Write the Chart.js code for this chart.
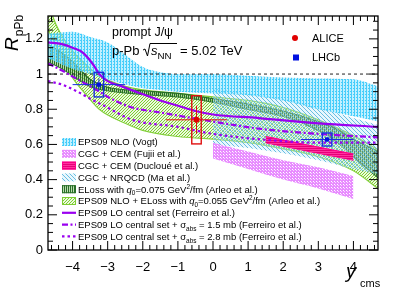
<!DOCTYPE html>
<html>
<head>
<meta charset="utf-8">
<script src="https://cdn.jsdelivr.net/npm/chart.js@4.4.0/dist/chart.umd.min.js"></script>
<style>
  html, body { margin: 0; padding: 0; background: #fff; }
</style>
</head>
<body>
<canvas id="grafico" width="399" height="289"></canvas>
<script>
// limites dos eixos
var eixoX = [-4.7, 4.7];
var eixoY = [0, 1.33];

// faixas teoricas (rapidez y_cms, borda de cima, borda de baixo)
var vogtX = [-4.7, -4, -3.5, -3, -2.5, -2, -1.5, -1, 0, 1, 2, 3, 4, 4.7];
var vogtAlto = [1.23, 1.24, 1.21, 1.18, 1.11, 1.04, 1.01, 1.0, 1.0, 0.99, 0.98, 0.975, 0.97, 0.93];
var vogtBaixo = [1.09, 1.03, 1.0, 0.97, 0.94, 0.92, 0.91, 0.90, 0.89, 0.88, 0.85, 0.80, 0.76, 0.73];

var fujiiX = [0, 1, 2, 3, 4];
var fujiiAlto = [0.61, 0.56, 0.51, 0.47, 0.42];
var fujiiBaixo = [0.52, 0.46, 0.40, 0.35, 0.29];

var duclX = [1.5, 2, 2.5, 3, 3.5, 4];
var duclAlto = [0.645, 0.625, 0.605, 0.585, 0.565, 0.545];
var duclBaixo = [0.61, 0.59, 0.57, 0.55, 0.53, 0.51];

var maX = [0, 1, 2, 3, 4, 4.7];
var maAlto = [0.92, 0.89, 0.86, 0.81, 0.75, 0.71];
var maBaixo = [0.60, 0.58, 0.55, 0.51, 0.46, 0.43];

var eloss075X = [-4.7, -4.3, -4, -3.5, -3, -2, -1, 0, 1, 2, 3, 3.5, 4, 4.7];
var eloss075Alto = [1.17, 1.12, 1.07, 0.97, 0.925, 0.905, 0.89, 0.86, 0.83, 0.79, 0.73, 0.69, 0.63, 0.56];
var eloss075Baixo = [1.07, 1.03, 0.99, 0.93, 0.905, 0.885, 0.87, 0.84, 0.80, 0.76, 0.68, 0.62, 0.53, 0.41];

var eloss055X = [-4.7, -4.57, -4.37, -4, -3.6, -3.24, -2.5, -2, -1, 0, 1, 2, 3, 4, 4.7];
var eloss055Alto = [1.42, 1.33, 1.24, 1.13, 1.05, 0.99, 0.93, 0.91, 0.89, 0.87, 0.85, 0.81, 0.74, 0.65, 0.57];
var eloss055Baixo = [1.25, 1.20, 1.12, 0.98, 0.88, 0.80, 0.72, 0.68, 0.645, 0.63, 0.61, 0.575, 0.53, 0.45, 0.35];

// curvas Ferreiro
var ferrX = [-4.7, -4.3, -4, -3.7, -3.4, -3.24, -3, -2.6, -2.2, -1.5, -1, -0.5, 0, 1.3, 3, 4.7];
var ferrY = [1.18, 1.17, 1.15, 1.12, 1.05, 1.0, 0.96, 0.93, 0.90, 0.85, 0.82, 0.79, 0.77, 0.75, 0.72, 0.70];
var ferr15X = [-4.7, -4.3, -3.86, -3.4, -2.9, -2.3, -1.45, 0, 1.3, 3, 4.7];
var ferr15Y = [1.06, 1.02, 0.97, 0.92, 0.86, 0.81, 0.78, 0.73, 0.69, 0.66, 0.64];
var ferr28X = [-4.7, -4.3, -3.86, -3.5, -3.1, -2.3, -1, 0, 1.3, 3, 4.7];
var ferr28Y = [0.96, 0.94, 0.90, 0.86, 0.82, 0.74, 0.70, 0.66, 0.63, 0.61, 0.61];

// dados medidos
var aliceX = [-0.47], aliceY = [0.74];
var aliceXmin = [-1.34], aliceXmax = [0.40];
var aliceStat = [0.08], aliceSist = [0.137];
var lhcbX = [-3.25, 3.25], lhcbY = [0.94, 0.628];
var lhcbXmin = [-4.0, 2.5], lhcbXmax = [-2.5, 4.0];
var lhcbStat = [0.035, 0.012], lhcbSist = [0.07, 0.037];

var refX = [-4.7, 4.7], refY = [1, 1];

var legendaTextos = [
  [["EPS09 NLO (Vogt)", "n"]],
  [["CGC + CEM (Fujii et al.)", "n"]],
  [["CGC + CEM (Ducloué et al.)", "n"]],
  [["CGC + NRQCD (Ma et al.)", "n"]],
  [["ELoss with ", "n"], ["q", "i"], ["0", "sub"], ["=0.075 GeV", "n"], ["2", "sup"], ["/fm (Arleo et al.)", "n"]],
  [["EPS09 NLO + ELoss with ", "n"], ["q", "i"], ["0", "sub"], ["=0.055 GeV", "n"], ["2", "sup"], ["/fm (Arleo et al.)", "n"]],
  [["EPS09 LO central set (Ferreiro et al.)", "n"]],
  [["EPS09 LO central set + ", "n"], ["σ", "n"], ["abs", "sub"], [" = 1.5 mb (Ferreiro et al.)", "n"]],
  [["EPS09 LO central set + ", "n"], ["σ", "n"], ["abs", "sub"], [" = 2.8 mb (Ferreiro et al.)", "n"]]
];

var FONTE = "'Liberation Sans', Arial, sans-serif";
var ROXO = "#9a00f0";

function pontos(xs, ys) {
  return xs.map(function (v, i) { return { x: v, y: ys[i] }; });
}

// padroes de hachura
function padrao(tam, desenho) {
  var c = document.createElement("canvas");
  c.width = tam; c.height = tam;
  var g = c.getContext("2d");
  desenho(g, tam);
  return g.createPattern(c, "repeat");
}

var padVogt = padrao(3, function (g, n) {
  g.fillStyle = "rgba(140,228,255,0.55)"; g.fillRect(0, 0, n, n);
  g.fillStyle = "rgb(70,205,250)"; g.fillRect(0, 0, 1, n); g.fillRect(2, 1, 1, 1);
});
var padFujii = padrao(3, function (g, n) {
  g.fillStyle = "rgb(232,140,255)"; g.fillRect(0, 0, n, n);
  g.clearRect(1, 1, 1, 1);
  g.fillStyle = "rgb(248,215,255)"; g.fillRect(2, 2, 1, 1);
});
var padDucl = padrao(2, function (g, n) {
  g.fillStyle = "rgb(255,50,160)"; g.fillRect(0, 0, n, n);
  g.fillStyle = "rgb(230,0,120)"; g.fillRect(0, 0, n, 1);
});
var padMa = padrao(4, function (g, n) {
  g.fillStyle = "rgba(190,232,248,0.35)"; g.fillRect(0, 0, n, n);
  g.fillStyle = "rgb(105,190,225)";
  for (var i = 0; i < n; i++) g.fillRect(i, i, 1, 1);
});
var padEloss075 = padrao(2, function (g, n) {
  g.fillStyle = "rgba(140,195,120,0.6)"; g.fillRect(0, 0, n, n);
  g.fillStyle = "rgb(40,110,40)"; g.fillRect(0, 0, 1, n);
});
var padEloss055 = padrao(3, function (g, n) {
  g.fillStyle = "rgba(200,240,160,0.35)"; g.fillRect(0, 0, n, n);
  g.fillStyle = "rgb(125,205,50)";
  for (var i = 0; i < n; i++) g.fillRect(i, n - 1 - i, 1, 1);
});

function faixa(xs, alto, baixo, fundo, borda) {
  var base = {
    pointRadius: 0,
    borderColor: borda || "transparent",
    borderWidth: 1.2,
    cubicInterpolationMode: "monotone",
    clip: 0
  };
  return [
    Object.assign({}, base, { data: pontos(xs, alto), fill: "+1", backgroundColor: fundo }),
    Object.assign({}, base, { data: pontos(xs, baixo), fill: false })
  ];
}

function curva(xs, ys, tracos) {
  return {
    data: pontos(xs, ys),
    borderColor: ROXO,
    borderWidth: 2.2,
    borderDash: tracos,
    pointRadius: 0,
    fill: false,
    cubicInterpolationMode: "monotone",
    clip: 0
  };
}

var datasets = [
  { data: pontos(aliceX, aliceY), showLine: false, pointStyle: "circle", pointRadius: 3,
    pointBackgroundColor: "#e00000", pointBorderColor: "#e00000", borderWidth: 0 },
  { data: pontos(lhcbX, lhcbY), showLine: false, pointStyle: "rect", pointRadius: 3,
    pointBackgroundColor: "#0010e0", pointBorderColor: "#0010e0", borderWidth: 0 },
  curva(ferrX, ferrY, []),
  curva(ferr15X, ferr15Y, [6, 2.5, 2, 2.5]),
  curva(ferr28X, ferr28Y, [2.5, 3]),
  { data: pontos(refX, refY), borderColor: "#222", borderWidth: 1, borderDash: [3, 3],
    pointRadius: 0, fill: false }
]
  .concat(faixa(duclX, duclAlto, duclBaixo, padDucl, "rgb(255,0,140)"))
  .concat(faixa(fujiiX, fujiiAlto, fujiiBaixo, padFujii))
  .concat(faixa(vogtX, vogtAlto, vogtBaixo, padVogt))
  .concat(faixa(maX, maAlto, maBaixo, padMa))
  .concat(faixa(eloss075X, eloss075Alto, eloss075Baixo, padEloss075, "rgb(40,110,40)"))
  .concat(faixa(eloss055X, eloss055Alto, eloss055Baixo, padEloss055, "rgb(125,205,50)"));

function linha(ctx, x1, y1, x2, y2) {
  ctx.beginPath(); ctx.moveTo(x1, y1); ctx.lineTo(x2, y2); ctx.stroke();
}

// barras de erro e caixas sistematicas
function desenharErros(ctx, sx, sy, xs, ys, xmin, xmax, stat, sist, cor) {
  ctx.save();
  ctx.strokeStyle = cor;
  for (var i = 0; i < xs.length; i++) {
    var px = sx.getPixelForValue(xs[i]);
    var py = sy.getPixelForValue(ys[i]);
    ctx.lineWidth = 1;
    linha(ctx, sx.getPixelForValue(xmin[i]), py, sx.getPixelForValue(xmax[i]), py);
    linha(ctx, px, sy.getPixelForValue(ys[i] + stat[i]), px, sy.getPixelForValue(ys[i] - stat[i]));
    var x0 = sx.getPixelForValue(xs[i] - 0.135), x1 = sx.getPixelForValue(xs[i] + 0.135);
    var y0 = sy.getPixelForValue(ys[i] + sist[i]), y1 = sy.getPixelForValue(ys[i] - sist[i]);
    ctx.lineWidth = 1.4;
    ctx.strokeRect(x0, y0, x1 - x0, y1 - y0);
  }
  ctx.restore();
}

// texto com indices e expoentes
function textoRico(ctx, partes, x, y, tam, fsub) {
  var cx = x;
  fsub = fsub || 0.68;
  partes.forEach(function (p) {
    var t = tam, dy = 0, estilo = "";
    if (p[1] == "i") estilo = "italic ";
    if (p[1] == "sub") { t = tam * fsub; dy = tam * 0.3; }
    if (p[1] == "sup") { t = tam * fsub; dy = -tam * 0.42; }
    ctx.font = estilo + t + "px " + FONTE;
    ctx.fillText(p[0], cx, y + dy);
    cx += ctx.measureText(p[0]).width;
  });
  return cx;
}

var enfeites = {
  id: "enfeites",
  beforeDatasetDraw: function (chart, args) {
    if (args.index !== 1) return;
    var ctx = chart.ctx, sx = chart.scales.x, sy = chart.scales.y;
    desenharErros(ctx, sx, sy, lhcbX, lhcbY, lhcbXmin, lhcbXmax, lhcbStat, lhcbSist, "#1a2ee0");
    desenharErros(ctx, sx, sy, aliceX, aliceY, aliceXmin, aliceXmax, aliceStat, aliceSist, "#e01010");
  },
  afterDraw: function (chart) {
    var ctx = chart.ctx, a = chart.chartArea;
    var sx = chart.scales.x, sy = chart.scales.y;
    ctx.save();
    ctx.strokeStyle = "#000";
    ctx.fillStyle = "#000";
    ctx.lineWidth = 1.3;
    ctx.strokeRect(a.left, a.top, a.right - a.left, a.bottom - a.top);

    // marcas dos eixos, para dentro
    ctx.lineWidth = 1;
    for (var k = -23; k <= 23; k++) {
      var px = sx.getPixelForValue(k * 0.2);
      var L = (k % 5 == 0) ? 9 : 5;
      linha(ctx, px, a.bottom, px, a.bottom - L);
      linha(ctx, px, a.top, px, a.top + L);
    }
    for (var j = 0; j <= 26; j++) {
      var py = sy.getPixelForValue(j * 0.05);
      var M = (j % 4 == 0) ? 9 : 5;
      linha(ctx, a.left, py, a.left + M, py);
      linha(ctx, a.right, py, a.right - M, py);
    }

    ctx.textBaseline = "alphabetic";
    ctx.textAlign = "left";

    // titulo eixo y
    ctx.save();
    ctx.translate(18, 51);
    ctx.rotate(-Math.PI / 2);
    ctx.font = "italic 19px " + FONTE;
    ctx.fillText("R", 0, 0);
    var wR = ctx.measureText("R").width;
    ctx.font = "12px " + FONTE;
    ctx.fillText("pPb", wR + 1, 5);
    ctx.restore();

    // titulo eixo x
    ctx.font = "italic 20px " + FONTE;
    ctx.fillText("y", 346, 278);
    ctx.font = "11px " + FONTE;
    ctx.fillText("cms", 360, 287);

    // cabecalho
    ctx.font = "12.5px " + FONTE;
    ctx.fillText("prompt J/\u03c8", 112, 36);
    ctx.font = "13px " + FONTE;
    ctx.fillText("p-Pb", 112, 55);
    // raiz
    ctx.lineWidth = 1;
    ctx.beginPath();
    ctx.moveTo(143, 50); ctx.lineTo(145, 49); ctx.lineTo(147.5, 56);
    ctx.lineTo(150, 43.5); ctx.lineTo(177, 43.5);
    ctx.stroke();
    textoRico(ctx, [["s", "i"], ["NN", "sub"]], 151, 55, 13, 0.75);
    ctx.font = "13px " + FONTE;
    ctx.fillText("= 5.02 TeV", 180, 55);

    // legenda dos dados
    ctx.fillStyle = "#e00000";
    ctx.beginPath(); ctx.arc(295, 38, 3, 0, Math.PI * 2); ctx.fill();
    ctx.fillStyle = "#0010e0";
    ctx.fillRect(293, 54.5, 6, 6);
    ctx.fillStyle = "#000";
    ctx.font = "11px " + FONTE;
    ctx.fillText("ALICE", 312, 42);
    ctx.fillText("LHCb", 312, 61);

    // legenda dos modelos
    var fundos = [padVogt, padFujii, padDucl, padMa, padEloss075, padEloss055];
    var bordas = [null, null, "rgb(255,0,140)", null, "rgb(40,110,40)", "rgb(125,205,50)"];
    var tracos = [[], [6, 2.5, 2, 2.5], [2.5, 3]];
    for (var e = 0; e < legendaTextos.length; e++) {
      var cy = 142 + e * 11.8;
      if (e < 6) {
        ctx.fillStyle = fundos[e];
        ctx.fillRect(62, cy - 4, 14, 8);
        if (bordas[e]) {
          ctx.strokeStyle = bordas[e]; ctx.lineWidth = 1;
          ctx.strokeRect(62.5, cy - 3.5, 13, 7);
        }
      } else {
        ctx.strokeStyle = ROXO; ctx.lineWidth = 2.2;
        ctx.setLineDash(tracos[e - 6]);
        linha(ctx, 62, cy, 76, cy);
        ctx.setLineDash([]);
      }
      ctx.fillStyle = "#000";
      textoRico(ctx, legendaTextos[e], 78, cy + 3.4, 9.5);
    }
    ctx.restore();
  }
};

var ctx1 = document.getElementById("grafico").getContext("2d");

var grafico = new Chart(ctx1, {
  type: "line",
  data: { datasets: datasets },
  plugins: [enfeites],
  options: {
    responsive: false,
    animation: false,
    devicePixelRatio: 1,
    layout: { padding: { top: 16, right: 21, left: 0, bottom: 0 } },
    plugins: {
      legend: { display: false },
      tooltip: { enabled: false },
    },
    scales: {
      x: {
        type: "linear",
        min: eixoX[0],
        max: eixoX[1],
        grid: { display: false, drawTicks: false },
        border: { display: false },
        afterFit: function (s) { s.height = 39; },
        ticks: {
          stepSize: 1,
          includeBounds: false,
          padding: 10,
          color: "#000",
          font: { size: 13, family: FONTE },
          callback: function (v) { return String(v).replace("-", "\u2212"); },
        },
      },
      y: {
        type: "linear",
        min: eixoY[0],
        max: eixoY[1],
        grid: { display: false, drawTicks: false },
        border: { display: false },
        afterFit: function (s) { s.width = 48; },
        ticks: {
          stepSize: 0.2,
          includeBounds: false,
          padding: 5,
          color: "#000",
          font: { size: 13, family: FONTE },
          callback: function (v) { return String(Math.round(v * 10) / 10); },
        },
      },
    },
  },
});
</script>
</body>
</html>
